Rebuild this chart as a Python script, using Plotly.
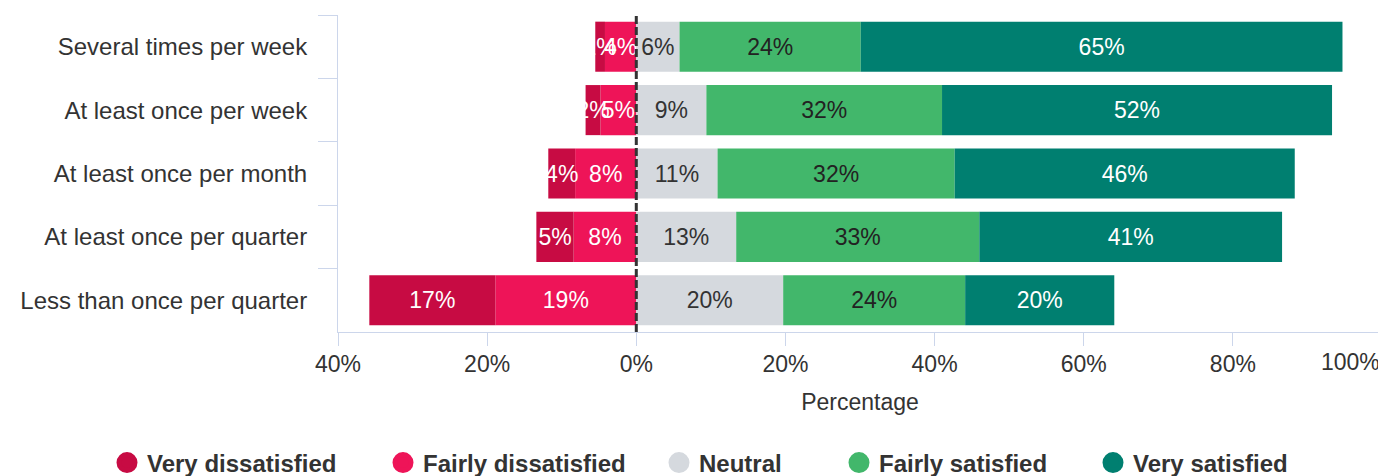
import plotly.graph_objects as go

categories = ["Several times per week", "At least once per week", "At least once per month",
              "At least once per quarter", "Less than once per quarter"]
very_dissatisfied = [1.3, 2.0, 3.6, 5.0, 16.9]
fairly_dissatisfied = [4.2, 4.8, 8.2, 8.4, 18.9]
neutral = [5.8, 9.4, 10.9, 13.4, 19.7]
fairly_satisfied = [24.3, 31.6, 31.8, 32.6, 24.4]
very_satisfied = [64.6, 52.3, 45.6, 40.6, 20.0]

series_names = ["Very dissatisfied", "Fairly dissatisfied", "Neutral", "Fairly satisfied", "Very satisfied"]
colors = ["#C70B43", "#EE1458", "#D5D9DE", "#42B76B", "#007F70"]
label_colors = ["#ffffff", "#ffffff", "#333333", "#222222", "#ffffff"]

x_tickvals = [-40, -20, 0, 20, 40, 60, 80, 100]
x_ticktext = ["40%", "20%", "0%", "20%", "40%", "60%", "80%", "100%"]

# page is offset by the 8px body margin, so the figure is 1378x468
W, H = 1378, 468
legend_x_px = [99, 375, 651, 831, 1085]

FONT = "Liberation Sans, Arial, sans-serif"

def labels(vals):
    return [f"{round(abs(v))}%" for v in vals]

fig = go.Figure()

neg = [(1, fairly_dissatisfied), (0, very_dissatisfied)]
pos = [(2, neutral), (3, fairly_satisfied), (4, very_satisfied)]

for idx, vals in neg:
    fig.add_trace(go.Bar(
        y=categories, x=[-v for v in vals], orientation="h",
        name=series_names[idx], marker=dict(color=colors[idx], line=dict(width=0)),
        text=labels(vals), textposition="inside", insidetextanchor="middle", textangle=0,
        textfont=dict(color=label_colors[idx], size=23, family=FONT),
        showlegend=False, hoverinfo="skip", cliponaxis=False))
for idx, vals in pos:
    fig.add_trace(go.Bar(
        y=categories, x=vals, orientation="h",
        name=series_names[idx], marker=dict(color=colors[idx], line=dict(width=0)),
        text=labels(vals), textposition="inside", insidetextanchor="middle", textangle=0,
        textfont=dict(color=label_colors[idx], size=23, family=FONT),
        showlegend=False, hoverinfo="skip", cliponaxis=False))

legend_layouts = {}
for i, name in enumerate(series_names):
    lname = "legend" if i == 0 else f"legend{i+1}"
    fig.add_trace(go.Scatter(x=[None], y=[None], mode="markers", name=name,
                             marker=dict(symbol="circle", size=16, color=colors[i],
                                         line=dict(color=colors[i], width=5)),
                             showlegend=True, legend=lname))
    legend_layouts[lname] = dict(
        orientation="h", xref="container", yref="container",
        x=legend_x_px[i] / W, xanchor="left", y=13 / H, yanchor="middle",
        font=dict(family=FONT, size=24, color="#333333", weight="bold"),
        itemsizing="trace", bgcolor="rgba(0,0,0,0)")

fig.add_shape(type="line", xref="x", yref="paper", x0=0, x1=0, y0=0, y1=1,
              line=dict(color="#333333", width=3, dash="8px,3px"))

fig.add_annotation(x=x_tickvals[-1], y=0, xref="x", yref="paper", text=x_ticktext[-1],
                   showarrow=False, xanchor="right", yanchor="top", yshift=-15,
                   font=dict(size=23, color="#333333", family=FONT))

fig.update_layout(
    width=W, height=H,
    margin=dict(l=330, r=4, t=7, b=144, autoexpand=False),
    barmode="relative", bargap=0.21,
    plot_bgcolor="white", paper_bgcolor="white",
    uniformtext=dict(minsize=23, mode="show"),
    font=dict(family=FONT, size=23, color="#333333"),
    xaxis=dict(range=[-40, 100], tickvals=x_tickvals,
               ticktext=x_ticktext[:-1] + [""], automargin=False,
               showgrid=False, zeroline=False, showline=True, linecolor="#ccd6eb", linewidth=1,
               ticks="outside", ticklen=13, tickcolor="#ccd6eb", ticklabelstandoff=-2,
               tickfont=dict(size=23, color="#333333", family=FONT),
               title=dict(text="Percentage", font=dict(size=23, color="#333333", family=FONT), standoff=18)),
    yaxis=dict(categoryorder="array", categoryarray=categories, autorange="reversed",
               automargin=False,
               showgrid=False, zeroline=False, showline=True, linecolor="#ccd6eb", linewidth=1,
               ticks="outside", ticklen=19, tickcolor="#ccd6eb", tickson="boundaries",
               ticklabelstandoff=25,
               tickfont=dict(size=24, color="#333333", family=FONT)),
    **legend_layouts,
)

fig.write_html("out.html")
